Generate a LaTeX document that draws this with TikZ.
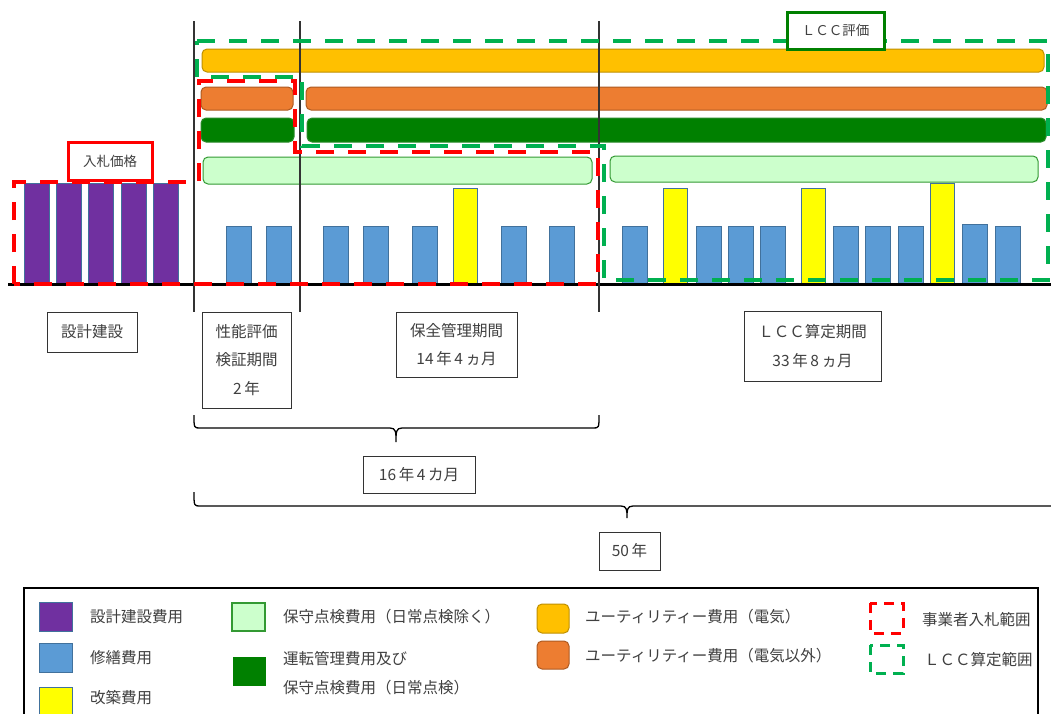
\documentclass[tikz,border=0pt]{standalone}
\usepackage{fontspec}
\setmainfont{Noto Sans CJK JP}
\newcommand\myfs{\fontsize{15.5}{28.5}\selectfont}
\newcommand\myfss{\fontsize{13.5}{16}\selectfont}
\definecolor{cpurple}{HTML}{7030A0}
\definecolor{cblue}{HTML}{5B9BD5}
\definecolor{cblueedge}{HTML}{41719C}
\definecolor{cyel}{HTML}{FFFF00}
\definecolor{cgold}{HTML}{FFC000}
\definecolor{cgoldedge}{HTML}{BF9000}
\definecolor{corange}{HTML}{ED7D31}
\definecolor{corangeedge}{HTML}{AE5A21}
\definecolor{cdgreen}{HTML}{008000}
\definecolor{cdgreenedge}{HTML}{2A8A2A}
\definecolor{clgreen}{HTML}{CCFFCC}
\definecolor{clgreenedge}{HTML}{339933}
\definecolor{cred}{HTML}{FF0000}
\definecolor{cgreen}{HTML}{00B050}
\definecolor{ctext}{HTML}{404040}
\definecolor{cline}{HTML}{333333}
\begin{document}
\begin{tikzpicture}[x=1pt,y=-1pt,
  purplebar/.style={fill=cpurple,draw=cblueedge,line width=1pt},
  repairbar/.style={fill=cblue,draw=cblueedge,line width=1pt},
  rebuildbar/.style={fill=cyel,draw=cblueedge,line width=1pt},
  hbar/.style={rounded corners=5pt,line width=1pt},
  goldbar/.style={hbar,fill=cgold,draw=cgoldedge},
  orangebar/.style={hbar,fill=corange,draw=corangeedge},
  dgreenbar/.style={hbar,fill=cdgreen,draw=cdgreenedge},
  lgreenbar/.style={hbar,fill=clgreen,draw=clgreenedge},
  reddash/.style={draw=cred,line width=4pt,dash pattern=on 18pt off 14pt},
  greendash/.style={draw=cgreen,line width=4pt,dash pattern=on 18pt off 14pt},
  lbl/.style={draw=cline,line width=0.9pt,fill=white,inner sep=0pt,font=\myfs,text=ctext,align=center},
  tagbox/.style={fill=white,line width=3pt,inner sep=0pt,font=\myfss,text=ctext},
  legtxt/.style={anchor=west,inner sep=0pt,font=\myfs,text=ctext,align=left},
  brace/.style={draw=black,line width=1.3pt},
  vline/.style={draw=cline,line width=1.3pt}
]
\useasboundingbox (0,0) rectangle (1051,713);
\fill[white] (0,0) rectangle (1051,713);

% horizontal cost bars
\draw[goldbar] (202,49) rectangle (1044,72);
\draw[orangebar] (201,87) rectangle (293,110);
\draw[orangebar] (306,87) rectangle (1047,110);
\draw[dgreenbar] (201,118) rectangle (294,142);
\draw[dgreenbar] (307,118) rectangle (1046,142);
\draw[lgreenbar] (203,157) rectangle (592,184);
\draw[lgreenbar] (610,156) rectangle (1038,182);

% purple design/build bars
\foreach \x in {24,56,88,121,153}
  \draw[purplebar] (\x,183) rectangle ++(25,100);

% repair bars
\foreach \x in {226,266,323,363,412,501,549,622,696,728,760,833,865,898,995}
  \draw[repairbar] (\x,226) rectangle ++(25,57);
\draw[repairbar] (962,224) rectangle ++(25,59);

% rebuild bars
\foreach \x in {453,663,801}
  \draw[rebuildbar] (\x,188) rectangle ++(24,95);
\draw[rebuildbar] (930,183) rectangle ++(24,100);

% baseline and period dividers
\draw[line width=3pt] (8,284) -- (1051,284);
\foreach \x in {194,300,599}
  \draw[vline] (\x,21) -- (\x,312);

% ranges
\draw[reddash] (14,284) -- (14,182) -- (199,182) -- (199,81) -- (295,81) -- (295,152) -- (598,152) -- (598,284) -- cycle;
\draw[greendash] (197,41) -- (1048,41) -- (1048,280) -- (604,280) -- (604,146) -- (302,146) -- (302,77) -- (197,77) -- cycle;

% tags
\node[tagbox,draw=cdgreen,minimum width=97pt,minimum height=37pt] (lcceval) at (835.5,30.5) {ＬＣＣ評価};
\node[tagbox,draw=cred,minimum width=84pt,minimum height=38pt] (bid) at (110,161) {入札価格};

% period labels
\node[lbl,minimum width=90pt,minimum height=40pt] (design) at (92,332) {設計建設};
\node[lbl,minimum width=89pt,minimum height=96pt] (perf) at (246.5,360) {性能評価\\検証期間\\2\,年};
\node[lbl,minimum width=121pt,minimum height=65pt] (maint) at (456.5,344.5) {保全管理期間\\14\,年\,4\,ヵ月};
\node[lbl,minimum width=137pt,minimum height=70pt] (lccper) at (812.5,346) {ＬＣＣ算定期間\\33\,年\,8\,ヵ月};
\node[lbl,minimum width=112pt,minimum height=37pt] (sixteen) at (419,474.5) {16\,年\,4\,カ月};
\node[lbl,minimum width=61pt,minimum height=38pt] (fifty) at (629.5,551) {50\,年};

% braces
\draw[brace] (194,415) .. controls (194,428) .. (200,428) -- (390,428)
  .. controls (396,428) and (396,432) .. (396,442)
  .. controls (396,432) and (396,428) .. (402,428) -- (593,428)
  .. controls (599,428) .. (599,415);
\draw[brace] (194,492) .. controls (194,506) .. (200,506) -- (621,506)
  .. controls (627,506) and (627,510) .. (627,518)
  .. controls (627,510) and (627,506) .. (633,506) -- (1060,506);

% legend
\begin{scope}
\clip (0,0) rectangle (1051,713);
\draw[line width=1.3pt,draw=black] (24,588) rectangle (1038,740);
\draw[purplebar] (39,602) rectangle (72,631);
\draw[repairbar] (39,643) rectangle (72,672);
\draw[rebuildbar] (39,687) rectangle (72,722);
\draw[fill=clgreen,draw=clgreenedge,line width=1.5pt] (232,603) rectangle (265,631);
\fill[cdgreen] (233,657) rectangle (266,686);
\draw[goldbar] (537,604) rectangle (569,633);
\draw[orangebar] (537,641) rectangle (569,669);
\draw[draw=cred,line width=3pt,dash pattern=on 10pt off 7pt] (870,603) rectangle (903,633);
\draw[draw=cgreen,line width=3pt,dash pattern=on 10pt off 7pt] (870,645) rectangle (903,673);
\end{scope}
\node[legtxt] (l1) at (90,617) {設計建設費用};
\node[legtxt] (l2) at (90,658) {修繕費用};
\node[legtxt] (l3) at (90,698) {改築費用};
\node[legtxt] (l4) at (283,617) {保守点検費用（日常点検除く）};
\node[legtxt] (l5) at (283,673) {運転管理費用及び\\保守点検費用（日常点検）};
\node[legtxt] (l6) at (585,617) {ユーティリティー費用（電気）};
\node[legtxt] (l7) at (585,656) {ユーティリティー費用（電気以外）};
\node[legtxt] (l8) at (922,620) {事業者入札範囲};
\node[legtxt] (l9) at (924,660) {ＬＣＣ算定範囲};
\end{tikzpicture}
\end{document}
